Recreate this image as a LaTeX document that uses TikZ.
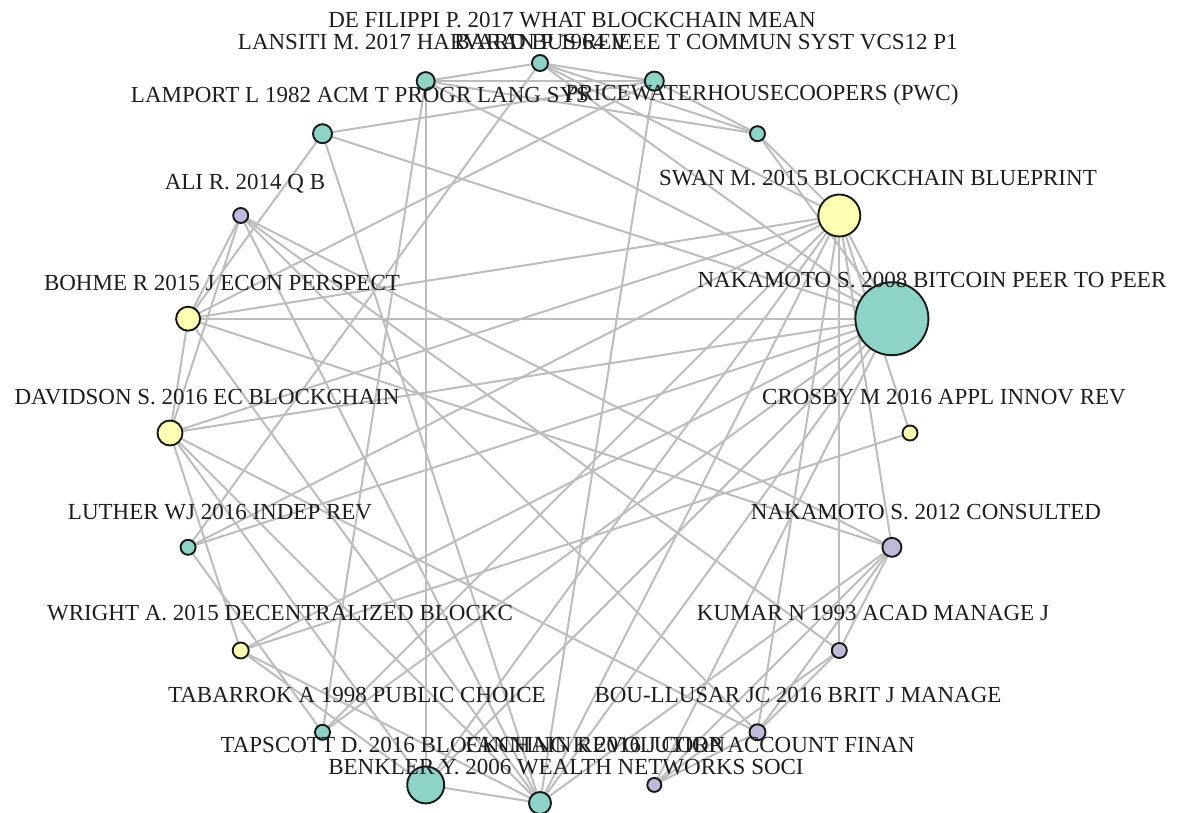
\documentclass[tikz,border=0pt]{standalone}
\usepackage{fontspec}
\setmainfont{Liberation Serif}
\usetikzlibrary{backgrounds}
\definecolor{tealc}{HTML}{8DD3C7}
\definecolor{yelc}{HTML}{FFFFB3}
\definecolor{lavc}{HTML}{BEBADA}
\definecolor{edgec}{HTML}{BDBDBD}
\definecolor{txtc}{HTML}{1E1E1E}
\tikzset{
  vtx/.style={circle, draw=black!90, line width=1.9pt, inner sep=0pt},
  vt/.style={vtx, fill=tealc},
  vy/.style={vtx, fill=yelc},
  vl/.style={vtx, fill=lavc},
  edge/.style={draw=edgec, line width=2pt},
  lbl/.style={text=txtc, inner sep=0pt, anchor=center, font=\fontsize{23}{26}\selectfont}
}
\begin{document}
\begin{tikzpicture}[x=1pt,y=-1pt]
\useasboundingbox (0,0) rectangle (1178,813);
% vertices on a circle
\node[vt, minimum size=16pt] (def) at (540,63) {};
\node[vt, minimum size=19pt] (bar) at (654.3,81.1) {};
\node[vt, minimum size=15pt] (pwc) at (757.5,133.7) {};
\node[vy, minimum size=42pt] (swan) at (839.3,215.5) {};
\node[vt, minimum size=73pt] (n08) at (891.9,318.7) {};
\node[vy, minimum size=15pt] (cro) at (910,433) {};
\node[vl, minimum size=19pt] (n12) at (891.9,547.3) {};
\node[vl, minimum size=15pt] (kum) at (839.3,650.5) {};
\node[vl, minimum size=16pt] (bou) at (757.5,732.3) {};
\node[vl, minimum size=14pt] (fan) at (654.3,784.9) {};
\node[vt, minimum size=22pt] (ben) at (540,803) {};
\node[vt, minimum size=37pt] (tap) at (425.7,784.9) {};
\node[vt, minimum size=15pt] (tab) at (322.5,732.3) {};
\node[vy, minimum size=16pt] (wri) at (240.7,650.5) {};
\node[vt, minimum size=15pt] (lut) at (188.1,547.3) {};
\node[vy, minimum size=25pt] (dav) at (170,433) {};
\node[vy, minimum size=24pt] (boh) at (188.1,318.7) {};
\node[vl, minimum size=15pt] (ali) at (240.7,215.5) {};
\node[vt, minimum size=19pt] (lam) at (322.5,133.7) {};
\node[vt, minimum size=18pt] (lan) at (425.7,81.1) {};
% edges
\begin{scope}[on background layer]
\fill[white] (0,0) rectangle (1178,813);
\foreach \a/\b in {lan/def, lan/bar, lan/pwc, lan/tap, lan/tab, lan/n08,
  def/bar, def/pwc, def/n08, def/swan, def/lut,
  bar/pwc, bar/lam, bar/boh, bar/ben,
  pwc/n08, pwc/swan,
  lam/n08, lam/boh, lam/ben,
  swan/n08, swan/cro, swan/kum, swan/bou, swan/n12, swan/dav, swan/lut,
  swan/tab, swan/tap, swan/ben, swan/boh,
  n08/boh, n08/dav, n08/lut, n08/wri, n08/tab, n08/tap, n08/ben, n08/fan,
  cro/wri,
  n12/ali, n12/boh, n12/kum, n12/bou, n12/fan, n12/ben,
  kum/ali, kum/bou, kum/fan,
  bou/ali, bou/dav, bou/fan,
  ben/tap, ben/ali, ben/dav, ben/wri, ben/boh,
  ali/boh, ali/dav, boh/dav, dav/wri, lut/tab, tap/wri, tap/dav}
  \draw[edge] (\a.center) -- (\b.center);
\end{scope}
% labels
\node[lbl] (defL) at (572,20) {DE FILIPPI P. 2017 WHAT BLOCKCHAIN MEAN};
\node[lbl] (lanL) at (433,42) {LANSITI M. 2017 HARVARD BUS REV};
\node[lbl] (barL) at (706,42) {BARAN P 1964 IEEE T COMMUN SYST VCS12 P1};
\node[lbl] (lamL) at (360,95) {LAMPORT L 1982 ACM T PROGR LANG SYS};
\node[lbl] (pwcL) at (762,95) {PRICEWATERHOUSECOOPERS (PWC)};
\node[lbl] (swanL) at (878,178) {SWAN M. 2015 BLOCKCHAIN BLUEPRINT};
\node[lbl] (aliL) at (245,184) {ALI R. 2014 Q B};
\node[lbl] (bohL) at (222,283) {BOHME R 2015 J ECON PERSPECT};
\node[lbl] (n08L) at (932,280) {NAKAMOTO S. 2008 BITCOIN PEER TO PEER};
\node[lbl] (davL) at (207,397) {DAVIDSON S. 2016 EC BLOCKCHAIN};
\node[lbl] (croL) at (944,397) {CROSBY M 2016 APPL INNOV REV};
\node[lbl] (lutL) at (220,512) {LUTHER WJ 2016 INDEP REV};
\node[lbl] (n12L) at (926,512) {NAKAMOTO S. 2012 CONSULTED};
\node[lbl] (wriL) at (280,613) {WRIGHT A. 2015 DECENTRALIZED BLOCKC};
\node[lbl] (kumL) at (873,613) {KUMAR N 1993 ACAD MANAGE J};
\node[lbl] (tabL) at (357,695) {TABARROK A 1998 PUBLIC CHOICE};
\node[lbl] (bouL) at (798,695) {BOU-LLUSAR JC 2016 BRIT J MANAGE};
\node[lbl] (tapL) at (473,745) {TAPSCOTT D. 2016 BLOCKCHAIN REVOLUTION};
\node[lbl] (fanL) at (690,745) {FANNING K 2016 J CORP ACCOUNT FINAN};
\node[lbl] (benL) at (566,767) {BENKLER Y. 2006 WEALTH NETWORKS SOCI};
\end{tikzpicture}
\end{document}
